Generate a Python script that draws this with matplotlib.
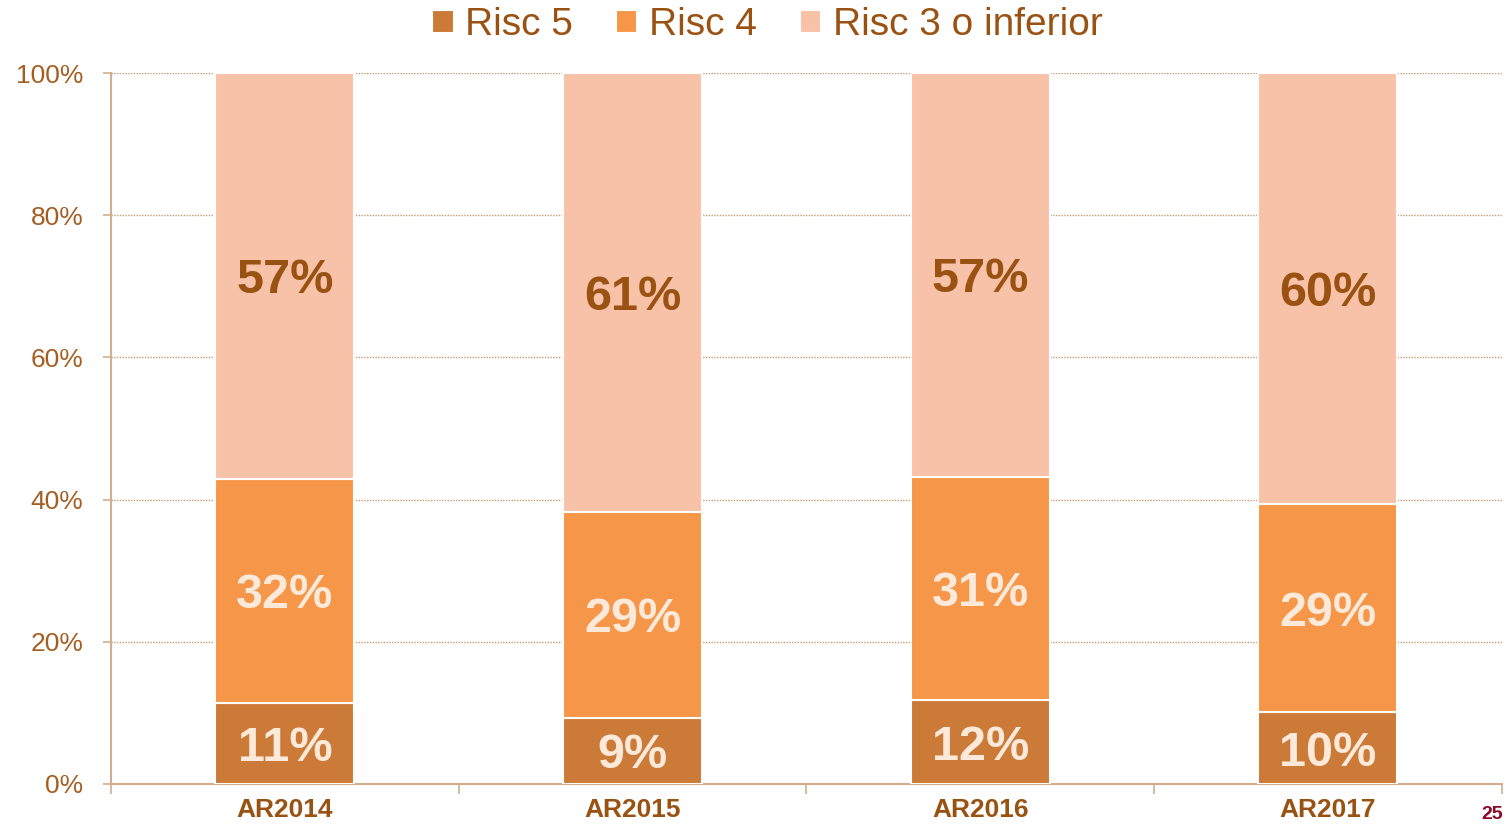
import numpy as np
import matplotlib
matplotlib.use("Agg")
import matplotlib.pyplot as plt

# Data (percent of total)
categories = ["AR2014", "AR2015", "AR2016", "AR2017"]
risc5 = [11.4, 9.3, 11.8, 10.1]
risc4 = [31.5, 29.0, 31.4, 29.3]
risc3 = [57.1, 61.7, 56.8, 60.6]
labels5 = ["11%", "9%", "12%", "10%"]
labels4 = ["32%", "29%", "31%", "29%"]
labels3 = ["57%", "61%", "57%", "60%"]
series_names = ["Risc 5", "Risc 4", "Risc 3 o inferior"]
yticks = [0, 20, 40, 60, 80, 100]

# Colours
C5 = "#CC7A38"
C4 = "#F59648"
C3 = "#F8C2A8"
TXT = "#A55E22"
DARK = "#9A5212"
LIGHT = "#FCE9DA"
AXIS = "#D2AE8E"

plt.rcParams["font.family"] = ["Liberation Sans", "DejaVu Sans"]

fig = plt.figure(figsize=(15.05, 8.25), dpi=100)
ax = fig.add_axes([0.0738, 0.0497, 0.924, 0.8618])

x = np.arange(len(categories))
w = 0.4
ax.bar(x, risc5, w, color=C5, edgecolor="white", linewidth=1.5, label=series_names[0], zorder=3)
ax.bar(x, risc4, w, bottom=risc5, color=C4, edgecolor="white", linewidth=1.5, label=series_names[1], zorder=3)
bottom3 = np.array(risc5) + np.array(risc4)
ax.bar(x, risc3, w, bottom=bottom3, color=C3, edgecolor="white", linewidth=1.5, label=series_names[2], zorder=3)

# Segment labels
for i in range(len(categories)):
    ax.text(x[i], risc5[i] / 2, labels5[i], ha="center", va="center_baseline",
            fontsize=35, fontweight="bold", color=LIGHT, zorder=4)
    ax.text(x[i], risc5[i] + risc4[i] / 2, labels4[i], ha="center", va="center_baseline",
            fontsize=35, fontweight="bold", color=LIGHT, zorder=4)
    ax.text(x[i], bottom3[i] + risc3[i] / 2, labels3[i], ha="center", va="center_baseline",
            fontsize=35, fontweight="bold", color=DARK, zorder=4)

ax.set_xlim(-0.5, len(categories) - 0.5)
ax.set_ylim(0, 100)
ax.set_yticks(yticks)
ax.set_yticklabels([f"{v}%" for v in yticks], fontsize=19, color=TXT)
ax.set_xticks(x)
ax.set_xticklabels(categories, fontsize=19, fontweight="bold", color=DARK)
ax.set_xticks(np.arange(-0.5, len(categories)), minor=True)
ax.tick_params(axis="x", which="major", length=0, pad=10)
ax.tick_params(axis="x", which="minor", length=7, color=AXIS, width=1.2)
ax.tick_params(axis="y", length=6, color=AXIS, width=1.2, pad=14)

ax.yaxis.grid(True, color="#C89A74", linewidth=1.0, linestyle=(0, (1, 1)), zorder=0)
ax.set_axisbelow(True)
for s in ["top", "right"]:
    ax.spines[s].set_visible(False)
for s in ["left", "bottom"]:
    ax.spines[s].set_color(AXIS)
    ax.spines[s].set_linewidth(1.5)

leg = ax.legend(loc="center", bbox_to_anchor=(0.472, 1.067), ncol=3, frameon=False,
                fontsize=28, handlelength=0.55, handleheight=0.55, handletextpad=0.3,
                columnspacing=1.1)
for t in leg.get_texts():
    t.set_color(DARK)

# page number in the corner
fig.text(0.999, 0.002, "25", fontsize=14, fontweight="bold", color="#8B0A2A", ha="right", va="bottom")

fig.savefig("out.png", dpi=100)
